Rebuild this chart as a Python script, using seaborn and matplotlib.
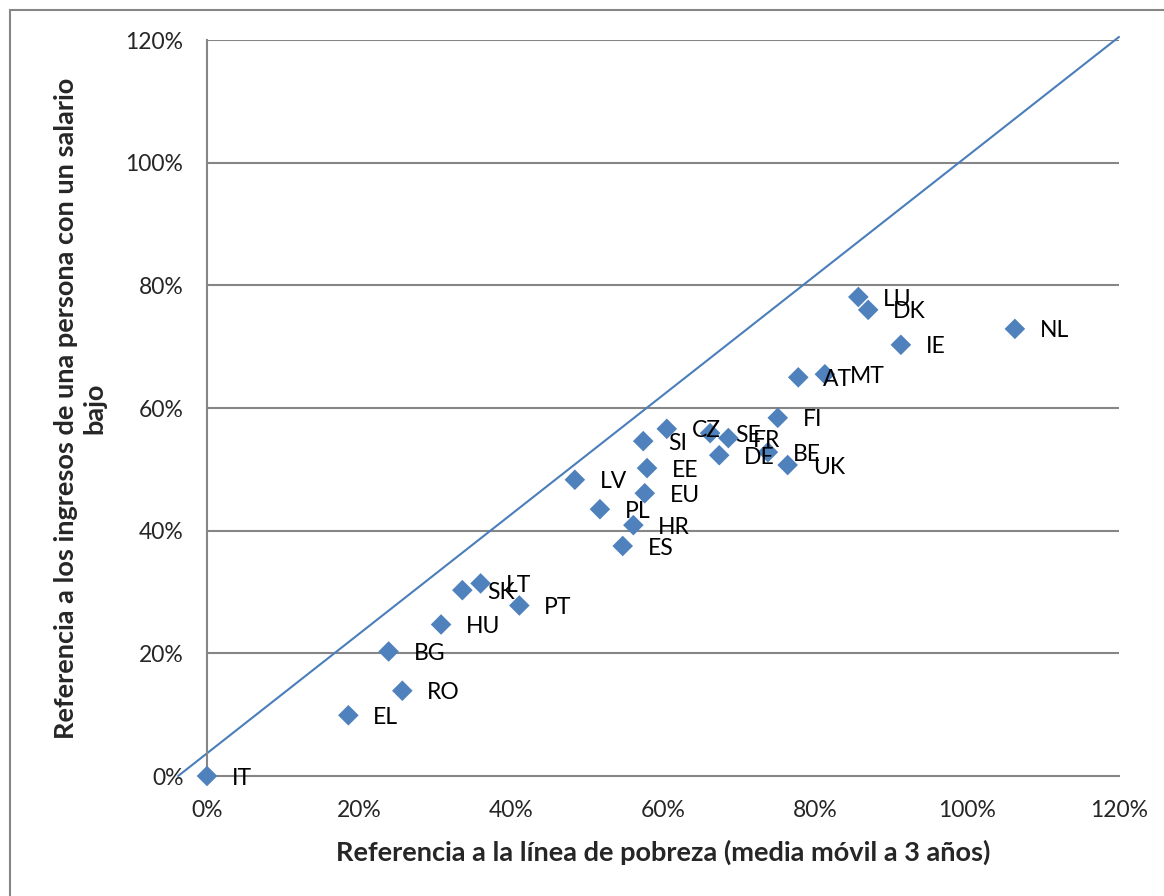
import matplotlib
matplotlib.use("Agg")
import matplotlib.pyplot as plt
import seaborn as sns
import pandas as pd
from matplotlib.ticker import PercentFormatter
from matplotlib.lines import Line2D

countries = ["IT", "EL", "RO", "BG", "HU", "SK", "LT", "PT", "LV", "PL", "HR", "ES",
             "EU", "EE", "SI", "CZ", "SE", "FR", "DE", "BE", "UK", "FI", "AT", "MT",
             "IE", "LU", "DK", "NL"]
poverty_line = [0.0, 18.6, 25.7, 23.9, 30.8, 33.6, 36.0, 41.1, 48.4, 51.7, 56.1, 54.7,
                57.6, 57.9, 57.4, 60.5, 66.2, 68.6, 67.4, 73.8, 76.4, 75.1, 77.8, 81.3,
                91.3, 85.7, 87.0, 106.3]
low_wage = [0.0, 9.9, 13.9, 20.3, 24.7, 30.3, 31.4, 27.8, 48.3, 43.5, 40.9, 37.5,
            46.1, 50.2, 54.6, 56.6, 55.9, 55.1, 52.3, 52.8, 50.7, 58.4, 65.0, 65.5,
            70.3, 78.1, 76.0, 72.9]
ref_line_x = [-3.8, 120.0]
ref_line_y = [0.0, 120.5]
ticks = [0, 20, 40, 60, 80, 100, 120]

df = pd.DataFrame({"country": countries, "x": poverty_line, "y": low_wage})

sns.set_style("white")
plt.rcParams["font.family"] = ["Lato", "DejaVu Sans"]

fig = plt.figure(figsize=(11.64, 8.96), dpi=100)
ax = fig.add_axes([207/1164, 1-776/896, (1119-207)/1164, (776-40)/896])

grid_c = "#868686"
for t in ticks[1:]:
    ax.axhline(t, color=grid_c, lw=1.5, zorder=0)

ax.plot(ref_line_x, ref_line_y, color="#4A7EBB", lw=1.5, clip_on=False, zorder=2)

sns.scatterplot(data=df, x="x", y="y", marker="D", s=110, color="#4F81BD",
                edgecolor="none", ax=ax, zorder=3, clip_on=False)

for c, xv, yv in zip(countries, poverty_line, low_wage):
    ax.annotate(c, (xv, yv), xytext=(18, -1.5), textcoords="offset points",
                ha="left", va="center", fontsize=16.5, color="black", zorder=4,
                annotation_clip=False)

ax.set_xlim(0, 120)
ax.set_ylim(0, 120)
ax.set_xticks(ticks)
ax.set_yticks(ticks)
ax.xaxis.set_major_formatter(PercentFormatter(decimals=0))
ax.yaxis.set_major_formatter(PercentFormatter(decimals=0))
ax.tick_params(axis="both", direction="out", length=7, width=1.5, color=grid_c,
               labelsize=16.5)
ax.tick_params(axis="x", pad=10)
ax.tick_params(axis="y", pad=10)

for side in ["top", "right"]:
    ax.spines[side].set_visible(False)
for side in ["left", "bottom"]:
    ax.spines[side].set_color(grid_c)
    ax.spines[side].set_linewidth(1.5)

ax.set_xlabel("Referencia a la línea de pobreza (media móvil a 3 años)",
              fontsize=19.5, fontweight="bold", labelpad=14)
ax.set_ylabel("Referencia a los ingresos de una persona con un salario\nbajo",
              fontsize=19.5, fontweight="bold", labelpad=14, linespacing=1.2)

# outer chart border (left and top visible)
fig.add_artist(Line2D([10/1164, 10/1164], [0, 1-10/896], transform=fig.transFigure,
                      color=grid_c, lw=1.5))
fig.add_artist(Line2D([10/1164, 1], [1-10/896, 1-10/896], transform=fig.transFigure,
                      color=grid_c, lw=1.5))

fig.savefig("out.png", dpi=100)
